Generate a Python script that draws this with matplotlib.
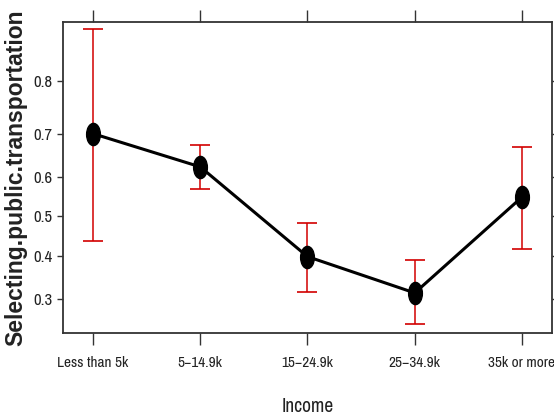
import numpy as np
import matplotlib.pyplot as plt
from matplotlib.path import Path
from matplotlib import font_manager

# effect of income on choosing public transportation (fit and 95% band)
income = ["Less than 5k", "5\u221214.9k", "15\u221224.9k", "25\u221234.9k", "35k or more"]
fit = [0.700, 0.624, 0.398, 0.313, 0.549]
lower = [0.437, 0.570, 0.315, 0.249, 0.418]
upper = [0.872, 0.675, 0.483, 0.390, 0.671]
yticks = [0.3, 0.4, 0.5, 0.6, 0.7, 0.8]

plt.rcParams["font.family"] = ["Liberation Sans", "DejaVu Sans"]

# use a condensed face for the tick labels if one is around
narrow = sorted({f.name for f in font_manager.fontManager.ttflist
                 if "Narrow" in f.name or "Condensed" in f.name})
tick_family = [narrow[0]] if narrow else ["Liberation Sans"]

x = np.arange(1, len(income) + 1)
fit = np.array(fit)
err = [fit - np.array(lower), np.array(upper) - fit]

# slightly tall ellipse as the point marker
circ = Path.unit_circle()
oval = Path(circ.vertices * [0.62, 1.0], circ.codes)

fig = plt.figure(figsize=(5.54, 4.19), dpi=100)
ax = fig.add_axes([0.1137, 0.2053, 0.8827, 0.7422])

ax.errorbar(x, fit, yerr=err, fmt="none", ecolor="#d20000", elinewidth=1.1,
            capsize=7.5, capthick=1.2, zorder=1)
ax.plot(x, fit, color="black", lw=2.2, marker=oval, markersize=16,
        markerfacecolor="black", markeredgecolor="black", zorder=3)

ax.set_yscale("logit")
ax.set_ylim(0.232, 0.880)
ax.set_xlim(0.72, 5.28)
ax.set_yticks(yticks)
ax.set_yticklabels([f"{v:.1f}" for v in yticks], family=tick_family)
ax.yaxis.set_minor_locator(plt.NullLocator())
ax.set_xticks(x)
ax.set_xticklabels(income, family=tick_family)

for s in ax.spines.values():
    s.set_color("#333333")
    s.set_linewidth(1.3)

ax.tick_params(axis="x", which="major", direction="out", length=8.6, width=1.0,
               pad=8, labelsize=11, colors="#333333", labelcolor="#222222",
               top=True, labeltop=False)
ax.tick_params(axis="y", which="major", direction="out", length=4.3, width=1.0,
               pad=3, labelsize=12, colors="#333333", labelcolor="#222222",
               right=True, labelright=False)

ax.set_xlabel("Income", fontsize=14, color="#222222", family=tick_family)
ax.xaxis.set_label_coords(0.5, -0.205)
ax.set_ylabel("Selecting.public.transportation", fontsize=16.5, fontweight="bold",
              color="#222222")
ax.yaxis.set_label_coords(-0.072, 0.5)

fig.savefig("out.png", dpi=100)
